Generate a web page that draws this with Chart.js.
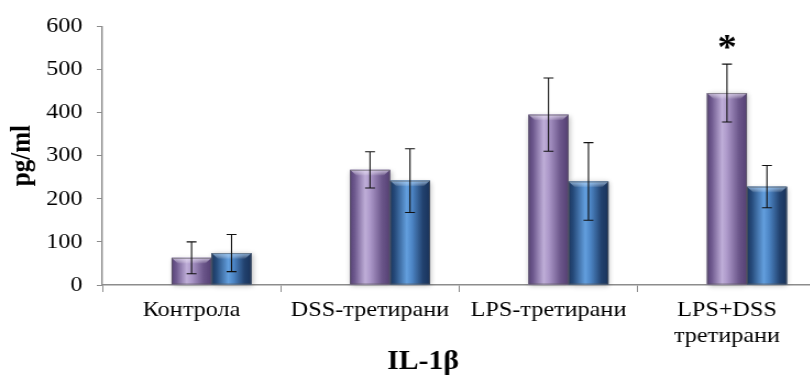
<!DOCTYPE html>
<html>
<head>
<meta charset="utf-8">
<script src="https://cdn.jsdelivr.net/npm/chart.js@4.4.1/dist/chart.umd.min.js"></script>
<style>
  html, body { margin: 0; padding: 0; background: #ffffff; overflow: hidden; }
  #wrap { width: 810px; height: 380px; overflow: hidden; position: relative; }
  /* the whole figure is drawn slightly widened, like its text */
  #c { display: block; transform: scaleX(1.1); transform-origin: 0 0; }
</style>
</head>
<body>
<div id="wrap"><canvas id="c" width="769" height="380"></canvas></div>
<script>
// IL-1β concentration per treatment group (pg/ml), mean ± error
const categories = ['Контрола', 'DSS-третирани', 'LPS-третирани', ['LPS+DSS', 'третирани']];
const seriesEmpty = [null, null, null, null];
const seriesPurple = [63, 267, 395, 445];
const errorsPurple = [37, 42, 85, 67];
const marksPurple = ['', '', '', '*'];
const seriesBlue = [74, 242, 240, 228];
const errorsBlue = [43, 74, 90, 49];
const marksBlue = ['', '', '', ''];
const yTicks = [0, 100, 200, 300, 400, 500, 600];
const yTitle = 'pg/ml';
const xTitle = 'IL-1β';

const SERIF = "'Liberation Serif', 'Times New Roman', serif";
const AXIS_GRAY = '#8c8c8c';

// Cylinder-like shading for each bar, painted over the library's bar rectangles
const shades = {
  1: { stops: [[0, '#574277'], [0.12, '#6f5a8f'], [0.38, '#bfaed8'], [0.5, '#ad99ca'], [0.8, '#6b568a'], [1, '#543f73']], top: '#e0d4f0' },
  2: { stops: [[0, '#1b365e'], [0.12, '#264b7b'], [0.42, '#639fde'], [0.55, '#4d86c6'], [0.82, '#22426f'], [1, '#18325a']], top: '#96c6f5' }
};

const barShadePlugin = {
  id: 'barShade',
  beforeDatasetsDraw(chart) {
    const ctx = chart.ctx;
    ctx.save();
    chart.data.datasets.forEach((ds, di) => {
      if (!shades[di]) return;
      chart.getDatasetMeta(di).data.forEach((el) => {
        if (el.y == null || isNaN(el.y)) return;
        const l = el.x - el.width / 2;
        ctx.shadowColor = 'rgba(0,0,0,0.28)';
        ctx.shadowBlur = 5;
        ctx.shadowOffsetX = 1;
        ctx.shadowOffsetY = 1;
        ctx.fillStyle = '#ffffff';
        ctx.fillRect(l, el.y, el.width, el.base - el.y);
      });
    });
    ctx.restore();
  },
  afterDatasetsDraw(chart) {
    const ctx = chart.ctx;
    ctx.save();
    chart.data.datasets.forEach((ds, di) => {
      const sh = shades[di];
      if (!sh) return;
      chart.getDatasetMeta(di).data.forEach((el) => {
        if (el.y == null || isNaN(el.y)) return;
        const l = el.x - el.width / 2, w = el.width, t = el.y, h = el.base - el.y;
        const g = ctx.createLinearGradient(l, 0, l + w, 0);
        sh.stops.forEach(([p, c]) => g.addColorStop(p, c));
        ctx.fillStyle = g;
        ctx.fillRect(l, t, w, h);
        // bevelled top edge
        const bv = Math.min(6, h / 2);
        const g2 = ctx.createLinearGradient(0, t, 0, t + bv);
        g2.addColorStop(0, sh.top);
        g2.addColorStop(1, 'rgba(255,255,255,0)');
        ctx.globalAlpha = 0.8;
        ctx.fillStyle = g2;
        ctx.beginPath();
        ctx.moveTo(l, t);
        ctx.lineTo(l + w, t);
        ctx.lineTo(l + w - bv, t + bv);
        ctx.lineTo(l + bv, t + bv);
        ctx.closePath();
        ctx.fill();
        ctx.globalAlpha = 1;
        ctx.strokeStyle = 'rgba(90,90,90,0.6)';
        ctx.lineWidth = 1;
        ctx.strokeRect(l + 0.5, t + 0.5, w - 1, h - 1);
      });
    });
    ctx.restore();
  }
};

// Error bars and significance marks drawn from the value/error arrays through the y scale
const errorBarPlugin = {
  id: 'errorBars',
  afterDatasetsDraw(chart) {
    const ctx = chart.ctx;
    const y = chart.scales.y;
    ctx.save();
    chart.data.datasets.forEach((ds, di) => {
      if (!ds.errors) return;
      chart.getDatasetMeta(di).data.forEach((el, i) => {
        const v = ds.data[i];
        if (v == null) return;
        const e = ds.errors[i];
        const yTop = y.getPixelForValue(v + e);
        const yBot = y.getPixelForValue(v - e);
        const x = el.x;
        ctx.strokeStyle = '#111';
        ctx.lineWidth = 1.1;
        ctx.beginPath();
        ctx.moveTo(x, yTop); ctx.lineTo(x, yBot);
        ctx.moveTo(x - 4.5, yTop); ctx.lineTo(x + 4.5, yTop);
        ctx.moveTo(x - 4.5, yBot); ctx.lineTo(x + 4.5, yBot);
        ctx.stroke();
        const mark = ds.marks && ds.marks[i];
        if (mark) {
          ctx.fillStyle = '#000';
          ctx.font = 'bold 35px ' + SERIF;
          ctx.textAlign = 'center';
          ctx.textBaseline = 'middle';
          ctx.fillText(mark, x, yTop - 14);
        }
      });
    });
    ctx.restore();
  }
};

// Category-axis caption centred under the whole figure
const xCaptionPlugin = {
  id: 'xCaption',
  afterDraw(chart) {
    const ctx = chart.ctx;
    ctx.save();
    ctx.fillStyle = '#000';
    ctx.font = 'bold 27px ' + SERIF;
    ctx.textAlign = 'center';
    ctx.textBaseline = 'middle';
    ctx.fillText(xTitle, chart.width / 2, chart.chartArea.bottom + 77);
    ctx.restore();
  }
};

new Chart(document.getElementById('c'), {
  type: 'bar',
  data: {
    labels: categories,
    datasets: [
      { label: 'series0', data: seriesEmpty, backgroundColor: 'rgba(0,0,0,0)' },
      { label: 'series1', data: seriesPurple, errors: errorsPurple, marks: marksPurple, backgroundColor: '#7e69a0', borderWidth: 0 },
      { label: 'series2', data: seriesBlue, errors: errorsBlue, marks: marksBlue, backgroundColor: '#2f5a91', borderWidth: 0 }
    ]
  },
  options: {
    responsive: false,
    animation: false,
    devicePixelRatio: 1,
    layout: { padding: { top: 22, right: 27, bottom: 0, left: 0 } },
    datasets: { bar: { categoryPercentage: 0.672, barPercentage: 1.0 } },
    plugins: {
      legend: { display: false },
      tooltip: { enabled: false }
    },
    scales: {
      x: {
        grid: { display: true, drawOnChartArea: false, offset: true, color: AXIS_GRAY, tickLength: 7, lineWidth: 1 },
        border: { display: true, color: AXIS_GRAY, width: 1.5 },
        ticks: { color: '#000', font: { family: SERIF, size: 22, lineHeight: 1.2 }, padding: 5, maxRotation: 0, autoSkip: false },
        afterFit(scale) { scale.height = 95; }
      },
      y: {
        min: 0,
        max: 600,
        afterBuildTicks(scale) { scale.ticks = yTicks.map(v => ({ value: v })); },
        grid: { display: true, drawOnChartArea: false, color: AXIS_GRAY, tickLength: 5, lineWidth: 1 },
        border: { display: true, color: AXIS_GRAY, width: 1.4 },
        ticks: { color: '#000', font: { family: SERIF, size: 22 }, padding: 13 },
        title: { display: true, text: yTitle, color: '#000', font: { family: SERIF, size: 25, weight: 'bold' }, padding: { top: 6, bottom: 0 } },
        afterFit(scale) { scale.width = 93; }
      }
    }
  },
  plugins: [barShadePlugin, errorBarPlugin, xCaptionPlugin]
});
</script>
</body>
</html>
